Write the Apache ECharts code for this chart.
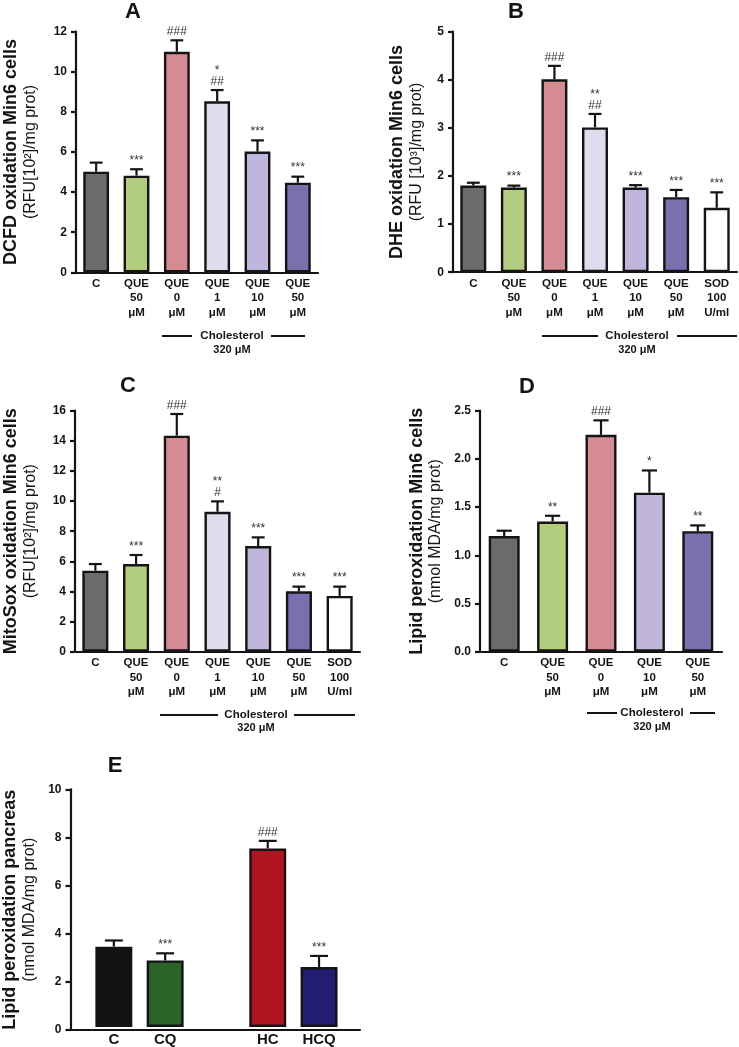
<!DOCTYPE html>
<html><head><meta charset="utf-8">
<script src="https://cdn.jsdelivr.net/npm/echarts/dist/echarts.min.js"></script>
<style>html,body{margin:0;padding:0;background:#fff}#c{width:739px;height:1047px}</style>
</head><body><div id="c"></div>
<script>
// ---------- DATA ----------
const catsA = ['C', 'QUE\n50\nμM', 'QUE\n0\nμM', 'QUE\n1\nμM', 'QUE\n10\nμM', 'QUE\n50\nμM'];
const meanA = [5.02, 4.82, 11.0, 8.53, 6.02, 4.47];
const semA  = [0.45, 0.32, 0.57, 0.56, 0.56, 0.30];
const sigA  = ['', '***', '###', '*\n##', '***', '***'];

const catsB = ['C', 'QUE\n50\nμM', 'QUE\n0\nμM', 'QUE\n1\nμM', 'QUE\n10\nμM', 'QUE\n50\nμM', 'SOD\n100\nU/ml'];
const meanB = [1.80, 1.76, 4.01, 3.01, 1.76, 1.56, 1.34];
const semB  = [0.06, 0.04, 0.28, 0.28, 0.05, 0.15, 0.32];
const sigB  = ['', '***', '###', '**\n##', '***', '***', '***'];

const catsC = ['C', 'QUE\n50\nμM', 'QUE\n0\nμM', 'QUE\n1\nμM', 'QUE\n10\nμM', 'QUE\n50\nμM', 'SOD\n100\nU/ml'];
const meanC = [5.38, 5.82, 14.34, 9.29, 7.01, 4.01, 3.70];
const semC  = [0.44, 0.60, 1.44, 0.69, 0.58, 0.31, 0.62];
const sigC  = ['', '***', '###', '**\n#', '***', '***', '***'];

const catsD = ['C', 'QUE\n50\nμM', 'QUE\n0\nμM', 'QUE\n10\nμM', 'QUE\n50\nμM'];
const meanD = [1.20, 1.35, 2.25, 1.65, 1.25];
const semD  = [0.055, 0.06, 0.15, 0.23, 0.06];
const sigD  = ['', '**', '###', '*', '**'];

const catsE = ['C', 'CQ', 'HC', 'HCQ'];
const meanE = [3.38, 2.80, 7.51, 2.52];
const semE  = [0.26, 0.30, 0.32, 0.47];
const sigE  = ['', '***', '###', '***'];

// ---------- STYLE ----------
const FF = "'Liberation Sans', Arial, sans-serif";
const INK = '#141414';
const GRAY = '#6b6b6b', GREEN = '#b3cd7e', PINK = '#d68b92', LAV1 = '#dfdcee', LAV2 = '#c0b6dc', PURP = '#7a70b0', WHITE = '#ffffff';
const colA = [GRAY, GREEN, PINK, LAV1, LAV2, PURP];
const colB = [GRAY, GREEN, PINK, LAV1, LAV2, PURP, WHITE];
const colD = [GRAY, GREEN, PINK, LAV2, PURP];
const colE = ['#111111', '#2b6329', '#b0151f', '#221c72'];

// E axis gets a spacer slot between the two groups
const catsEAxis = catsE.slice(0, 2).concat([''], catsE.slice(2));
const slotE = catsE.map((c, j) => j < 2 ? j : j + 1);

const panels = [
  {cats: catsA, mean: meanA, sem: semA, sig: sigA, colors: colA, grid: {left: 76, top: 31.7, width: 242, height: 240.6},
   max: 12, interval: 2, dec: 0, n1: 'DCFD oxidation Min6 cells', n2: '(RFU[10²]/mg prot)', gap: 35.5, ratio: 0.64, fs: 11.5},
  {cats: catsB, mean: meanB, sem: semB, sig: sigB, colors: colB, grid: {left: 453, top: 31.7, width: 284, height: 240.5},
   max: 5, interval: 1, dec: 0, n1: 'DHE oxidation Min6 cells', n2: '(RFU [10³]/mg prot)', gap: 26.5, ratio: 0.64, fs: 11.5},
  {cats: catsC, mean: meanC, sem: semC, sig: sigC, colors: colB, grid: {left: 75, top: 410.7, width: 285, height: 241},
   max: 16, interval: 2, dec: 0, n1: 'MitoSox oxidation Min6 cells', n2: '(RFU[10²]/mg prot)', gap: 34.5, ratio: 0.64, fs: 11.5},
  {cats: catsD, mean: meanD, sem: semD, sig: sigD, colors: colD, grid: {left: 480, top: 410.7, width: 242, height: 241},
   max: 2.5, interval: 0.5, dec: 1, n1: 'Lipid peroxidation Min6 cells', n2: '(nmol MDA/mg prot)', gap: 35, ratio: 0.64, fs: 11.5, tight: true}
];

const grids = [], xAxes = [], yAxes = [], series = [];

function yAxisFor(i, p, show) {
  return {
    type: 'value', gridIndex: i, min: 0, max: p.max, interval: p.interval, show: show,
    axisLine: {show: true, lineStyle: {color: INK, width: 2.2}},
    axisTick: {show: true, length: 5, lineStyle: {color: INK, width: 2.2}},
    splitLine: {show: false},
    axisLabel: {fontSize: 12, fontWeight: 'bold', color: INK, fontFamily: FF, margin: 9,
      formatter: v => v.toFixed(p.dec)},
    name: '{b|' + p.n1 + '}\n{n|' + p.n2 + '}',
    nameLocation: 'middle', nameRotate: 90, nameGap: p.gap,
    nameTextStyle: {fontFamily: FF, color: INK, rich: {
      b: {fontSize: 18, fontWeight: 'bold', fontFamily: FF, color: INK, lineHeight: p.tight ? 18 : 21},
      n: {fontSize: 16, fontFamily: FF, color: INK, lineHeight: 19}
    }}
  };
}

function addBars(axisIdx, p, xs, ratio) {
  const nSlots = p.axisCats.length;
  const arr = new Array(nSlots).fill('-');
  xs.forEach((slot, j) => { arr[slot] = {value: p.mean[j], itemStyle: {color: p.colors[j]}}; });
  series.push({
    type: 'bar', xAxisIndex: axisIdx, yAxisIndex: axisIdx, barWidth: (ratio * 100) + '%', silent: true, animation: false,
    itemStyle: {borderColor: INK, borderWidth: 2.4},
    data: arr
  });

  series.push({
    type: 'custom', xAxisIndex: axisIdx, yAxisIndex: axisIdx, silent: true, animation: false, z: 5,
    data: xs.map((slot, j) => [slot, p.mean[j], p.mean[j] + p.sem[j]]),
    renderItem: (params, api) => {
      const j = params.dataIndex;
      const x = api.value(0);
      const base = api.coord([x, api.value(1)]);
      const top = api.coord([x, api.value(2)]);
      const bw = api.size([1, 0])[0] * ratio + 2;
      const cap = bw * 0.46;
      const ch = [
        {type: 'line', shape: {x1: top[0], y1: base[1], x2: top[0], y2: top[1]}, style: {stroke: INK, lineWidth: 2.2}},
        {type: 'line', shape: {x1: top[0] - cap / 2, y1: top[1], x2: top[0] + cap / 2, y2: top[1]}, style: {stroke: INK, lineWidth: 2.2}}
      ];
      const s = p.sig[j];
      if (s) ch.push({type: 'text', x: top[0], y: top[1] - 3, style: {
        text: s, fill: '#333', fontSize: 12, fontFamily: FF, lineHeight: 11,
        align: 'center', verticalAlign: 'bottom', textAlign: 'center', textVerticalAlign: 'bottom'}});
      return {type: 'group', children: ch};
    }
  });
}

panels.forEach((p, i) => {
  p.axisCats = p.cats;
  grids.push(p.grid);
  xAxes.push({
    type: 'category', gridIndex: i, data: p.cats,
    axisLine: {show: true, onZero: false, lineStyle: {color: INK, width: 2.2}},
    axisTick: {show: false},
    axisLabel: {interval: 0, fontSize: p.fs, fontWeight: 'bold', lineHeight: 14.5, margin: 4, color: INK, fontFamily: FF}
  });
  yAxes.push(yAxisFor(i, p, true));
  addBars(i, p, p.cats.map((c, j) => j), p.ratio);
});

// Panel E: frame grid (axes) + bar grid (bars with spacer slot)
const pE = {cats: catsE, axisCats: catsEAxis, mean: meanE, sem: semE, sig: sigE, colors: colE,
  max: 10, interval: 2, dec: 0, n1: 'Lipid peroxidation pancreas', n2: '(nmol MDA/mg prot)', gap: 31};
grids.push({left: 70, top: 789.3, width: 290, height: 240.7});
xAxes.push({type: 'value', gridIndex: 4, min: 0, max: 1,
  axisLine: {show: true, onZero: false, lineStyle: {color: INK, width: 2.2}},
  axisTick: {show: false}, axisLabel: {show: false}, splitLine: {show: false}});
yAxes.push(yAxisFor(4, pE, true));
grids.push({left: 88.2, top: 789.3, width: 256.5, height: 240.7});
xAxes.push({type: 'category', gridIndex: 5, data: catsEAxis,
  axisLine: {show: false}, axisTick: {show: false},
  axisLabel: {interval: 0, fontSize: 15, fontWeight: 'bold', margin: 5, color: INK, fontFamily: FF}});
yAxes.push({type: 'value', gridIndex: 5, min: 0, max: 10, show: false, splitLine: {show: false}});
addBars(5, pE, slotE, 0.72);

// ---------- annotations ----------
function title(t, x, y) {
  return {type: 'text', x: x, y: y, silent: true, style: {text: t, font: 'bold 22px ' + FF, fill: INK,
    textAlign: 'center', textVerticalAlign: 'middle', align: 'center', verticalAlign: 'middle'}};
}
function chol(x1, x2, x3, x4, tx, y, y2) {
  const ls = {stroke: INK, lineWidth: 2};
  return [
    {type: 'line', silent: true, shape: {x1: x1, y1: y, x2: x2, y2: y}, style: ls},
    {type: 'line', silent: true, shape: {x1: x3, y1: y, x2: x4, y2: y}, style: ls},
    {type: 'text', x: tx, y: y, silent: true, style: {text: 'Cholesterol', font: 'bold 11.5px ' + FF, fill: INK,
      textAlign: 'center', textVerticalAlign: 'middle', align: 'center', verticalAlign: 'middle'}},
    {type: 'text', x: tx, y: y2, silent: true, style: {text: '320 μM', font: 'bold 11px ' + FF, fill: INK,
      textAlign: 'center', textVerticalAlign: 'middle', align: 'center', verticalAlign: 'middle'}}
  ];
}
const graphics = [
  title('A', 133, 12), title('B', 516, 12), title('C', 128, 386), title('D', 527, 387), title('E', 115, 766)
].concat(
  chol(162, 192, 271, 305, 232, 336, 350),
  chol(542, 598, 677, 737, 637, 336, 350),
  chol(160, 218, 294, 355, 256, 715, 728),
  chol(587, 617, 690, 715, 652, 713, 727)
);

const chart = echarts.init(document.getElementById('c'), null, {renderer: 'canvas'});
chart.setOption({
  animation: false,
  backgroundColor: '#ffffff',
  textStyle: {fontFamily: FF},
  grid: grids, xAxis: xAxes, yAxis: yAxes, series: series,
  graphic: graphics
});
</script>
</body></html>
